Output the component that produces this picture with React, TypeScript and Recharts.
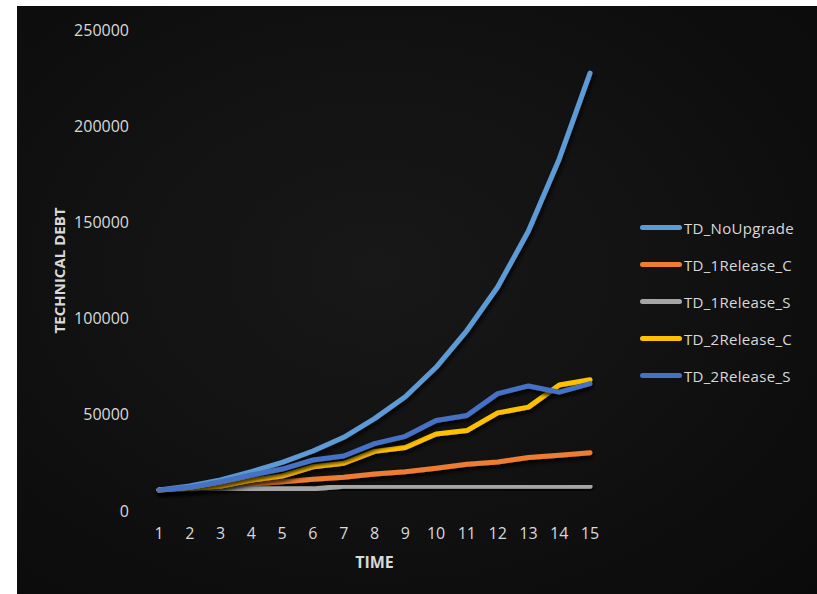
import React from 'react';
import { LineChart, Line, XAxis, YAxis, Legend, Label } from 'recharts';

const times = [1, 2, 3, 4, 5, 6, 7, 8, 9, 10, 11, 12, 13, 14, 15];
const tdNoUpgrade = [10900, 13000, 16100, 20400, 25300, 31200, 38300, 48000, 59400, 74700, 93800, 116400, 145500, 183000, 227600];
const td1ReleaseC = [10900, 11400, 12300, 14000, 15200, 16500, 17500, 19200, 20400, 22200, 24300, 25500, 27800, 29000, 30300];
const td1ReleaseS = [10900, 10900, 11500, 11500, 11500, 11500, 12900, 12900, 12900, 12900, 12900, 12900, 12900, 12900, 12900];
const td2ReleaseC = [10900, 11800, 13000, 16100, 18200, 23000, 24800, 31000, 33000, 40000, 41800, 51000, 54000, 65500, 68200];
const td2ReleaseS = [10900, 12300, 15200, 18700, 21800, 26500, 28600, 35000, 38800, 47000, 49600, 61000, 65000, 61800, 66200];

const seriesNames = ['TD_NoUpgrade', 'TD_1Release_C', 'TD_1Release_S', 'TD_2Release_C', 'TD_2Release_S'];
const seriesColors = ['#5B9BD5', '#ED7D31', '#A5A5A5', '#FFC000', '#4472C4'];
const seriesValues = [tdNoUpgrade, td1ReleaseC, td1ReleaseS, td2ReleaseC, td2ReleaseS];
const yTicks = [0, 50000, 100000, 150000, 200000, 250000];

const data = times.map((t, i) => {
  const row: Record<string, number> = { time: t };
  seriesNames.forEach((n, k) => {
    row[n] = seriesValues[k][i];
  });
  return row;
});

const textColor = '#d9d9d9';
const font = '"Open Sans", sans-serif';

const LegendContent = () => (
  <div style={{ fontFamily: font }}>
    {seriesNames.map((n, k) => (
      <div key={n} style={{ display: 'flex', alignItems: 'center', height: 37 }}>
        <span
          style={{
            display: 'inline-block',
            width: 42,
            height: 5,
            borderRadius: 3,
            background: seriesColors[k],
          }}
        />
        <span style={{ marginLeft: 2, color: textColor, fontSize: 15, letterSpacing: 0.3 }}>{n}</span>
      </div>
    ))}
  </div>
);

export default function App() {
  return (
    <div style={{ position: 'absolute', left: 0, top: 0, width: 817, height: 594, background: '#ffffff' }}>
      <svg width={0} height={0} style={{ position: 'absolute' }}>
        <defs>
          <filter id="lineShadow" x="-10%" y="-10%" width="130%" height="130%">
            <feDropShadow dx={1.5} dy={3} stdDeviation={2} floodColor="#000000" floodOpacity={0.9} />
          </filter>
        </defs>
      </svg>
      <div
        style={{
          position: 'absolute',
          left: 17,
          top: 6,
          width: 800,
          height: 588,
          background: 'radial-gradient(ellipse at 45% 45%, #181818 0%, #121212 45%, #0a0a0a 100%)',
        }}
      >
        <LineChart width={800} height={588} data={data} margin={{ top: 24, right: 227, bottom: 0, left: 0 }}>
          <XAxis
            dataKey="time"
            axisLine={false}
            tickLine={false}
            tickSize={0}
            tickMargin={17}
            height={83}
            tick={{ fill: textColor, fontSize: 16, fontFamily: font }}
            interval={0}
          >
            <Label
              content={(props: any) => {
                const vb = props.viewBox;
                return (
                  <text
                    x={vb.x + vb.width / 2}
                    y={vb.y + 51}
                    textAnchor="middle"
                    dominantBaseline="central"
                    fill={textColor}
                    fontSize={16}
                    fontWeight="bold"
                    fontFamily={font}
                  >
                    TIME
                  </text>
                );
              }}
            />
          </XAxis>
          <YAxis
            domain={[0, 250000]}
            ticks={yTicks}
            axisLine={false}
            tickLine={false}
            tickSize={0}
            tickMargin={30}
            width={142}
            interval={0}
            tick={{ fill: textColor, fontSize: 16, fontFamily: font }}
          >
            <Label
              content={(props: any) => {
                const vb = props.viewBox;
                const cx = vb.x + 42;
                const cy = vb.y + vb.height / 2;
                return (
                  <text
                    x={cx}
                    y={cy}
                    transform={`rotate(-90 ${cx} ${cy})`}
                    textAnchor="middle"
                    dominantBaseline="central"
                    fill={textColor}
                    fontSize={15}
                    fontWeight="bold"
                    fontFamily={font}
                  >
                    TECHNICAL DEBT
                  </text>
                );
              }}
            />
          </YAxis>
          <Legend
            layout="horizontal"
            verticalAlign="middle"
            align="center"
            content={() => <LegendContent />}
            wrapperStyle={{ position: 'absolute', left: 623, top: 203, width: 180, height: 185 }}
          />
          {seriesNames.map((n, k) => (
            <Line
              key={n}
              type="linear"
              dataKey={n}
              name={n}
              stroke={seriesColors[k]}
              strokeWidth={5}
              strokeLinecap="round"
              strokeLinejoin="round"
              dot={false}
              activeDot={false}
              filter="url(#lineShadow)"
              isAnimationActive={false}
            />
          ))}
        </LineChart>
      </div>
    </div>
  );
}
